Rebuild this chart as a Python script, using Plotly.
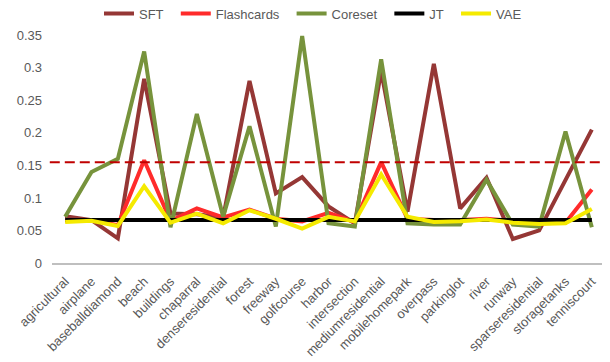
import plotly.graph_objects as go

categories = ["agricultural", "airplane", "baseballdiamond", "beach", "buildings", "chaparral",
              "denseresidential", "forest", "freeway", "golfcourse", "harbor", "intersection",
              "mediumresidential", "mobilehomepark", "overpass", "parkinglot", "river", "runway",
              "sparseresidential", "storagetanks", "tenniscourt"]

sft = [0.072, 0.066, 0.038, 0.283, 0.076, 0.075, 0.070, 0.280, 0.107, 0.132, 0.087, 0.061,
       0.295, 0.079, 0.306, 0.084, 0.131, 0.037, 0.050, 0.128, 0.205]
flashcards = [0.065, 0.066, 0.058, 0.158, 0.065, 0.084, 0.070, 0.082, 0.068, 0.064, 0.077, 0.063,
              0.155, 0.068, 0.066, 0.066, 0.068, 0.064, 0.061, 0.062, 0.113]
coreset = [0.071, 0.140, 0.160, 0.325, 0.055, 0.229, 0.071, 0.210, 0.056, 0.349, 0.061, 0.056,
           0.313, 0.061, 0.059, 0.059, 0.128, 0.059, 0.056, 0.202, 0.055]
jt = [0.066] * 21
vae = [0.063, 0.065, 0.057, 0.118, 0.062, 0.076, 0.061, 0.081, 0.068, 0.053, 0.071, 0.064,
       0.136, 0.071, 0.063, 0.064, 0.067, 0.062, 0.060, 0.061, 0.083]
threshold = 0.155

series = [
    ("SFT", sft, "#953735"),
    ("Flashcards", flashcards, "#FF2B2B"),
    ("Coreset", coreset, "#77933C"),
    ("JT", jt, "#000000"),
    ("VAE", vae, "#F5EA00"),
]

fig = go.Figure()
pad = "\u00a0\u00a0"
for k, (name, vals, color) in enumerate(series):
    label = name + (pad if k < len(series) - 1 else "")
    fig.add_trace(go.Scatter(x=categories, y=vals, mode="lines", name=label,
                             line=dict(color=color, width=4)))

fig.add_shape(type="line", xref="paper", yref="y", x0=-0.004, x1=1.005,
              y0=threshold, y1=threshold,
              line=dict(color="#C00000", width=2, dash="10px,5px"), layer="above")

# page body has an 8px default margin, so the figure is sized to fill the rest
fig.update_layout(
    width=602, height=354,
    margin=dict(l=44, r=5, t=26, b=99, autoexpand=False),
    paper_bgcolor="white", plot_bgcolor="white",
    font=dict(family="Liberation Sans, Arial, sans-serif", size=13, color="#595959"),
    showlegend=True,
    legend=dict(orientation="h", x=0.085, xanchor="left", y=1.089, yanchor="middle",
                font=dict(size=13, color="#595959"), itemwidth=30,
                tracegroupgap=0, bgcolor="rgba(0,0,0,0)"),
)
fig.update_xaxes(type="category", range=[-0.5, 20.5], showgrid=False,
                 showline=True, linecolor="#BFBFBF", linewidth=1.5,
                 ticks="", tickangle=-45, ticklabelstandoff=4,
                 tickfont=dict(size=13, color="#595959"))
fig.update_yaxes(range=[0, 0.352], tickvals=[0, 0.05, 0.1, 0.15, 0.2, 0.25, 0.3, 0.35],
                 ticktext=["0", "0.05", "0.1", "0.15", "0.2", "0.25", "0.3", "0.35"],
                 showgrid=False, zeroline=False, showline=False, ticks="",
                 ticklabelstandoff=9, tickfont=dict(size=13, color="#595959"))

fig.write_html("out.html")
